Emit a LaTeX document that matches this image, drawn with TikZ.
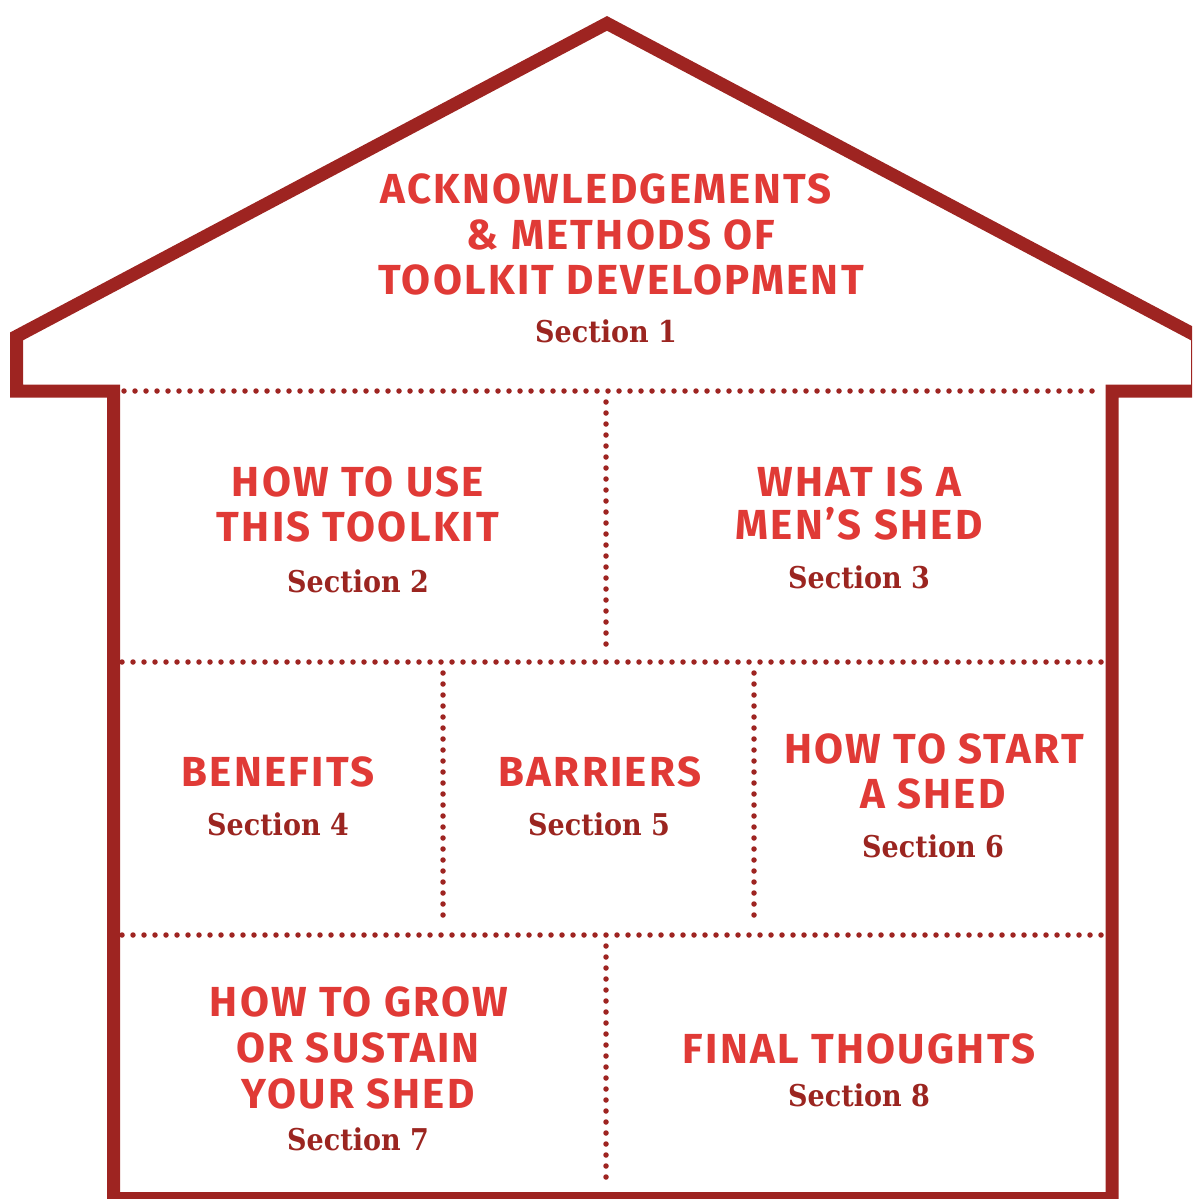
\documentclass[tikz,border=0pt]{standalone}
\usepackage{fontspec}
\newfontfamily\headfont{Fira Sans}[LetterSpace=5.5]
\newfontfamily\secfont{DejaVu Serif}[FakeStretch=0.9]
\definecolor{wallred}{HTML}{9E2421}
\definecolor{headred}{HTML}{E03A36}
\definecolor{secred}{HTML}{9B2520}
\begin{document}
\begin{tikzpicture}%
	[x=1pt,
	y=-1pt,
	wall/.style={color=wallred, line width=13pt, miter limit=20},
	divider/.style={color=wallred, line width=5.5pt, line cap=round, dash pattern=on 0pt off 11pt},
	head/.style={color=headred, anchor=base, inner sep=0pt, font=\headfont\bfseries\fontsize{42}{46}\selectfont},
	sec/.style={color=secred, anchor=base, inner sep=0pt, font=\secfont\bfseries\fontsize{30}{34}\selectfont}]
%
\useasboundingbox (0,0) rectangle (1192,1199);
\clip (0,0) rectangle (1192,1199);
%%
%% Corners of the house
%%
\coordinate (floorL) at (113.5,1198.5);
\coordinate (eaveL) at (113.5,391);
\coordinate (tipL) at (16.5,391);
\coordinate (roofL) at (16.5,336.4);
\coordinate (peak) at (607,23.4);
\coordinate (roofR) at (1197.5,336.4);
\coordinate (tipR) at (1197.5,391);
\coordinate (eaveR) at (1112,391);
\coordinate (floorR) at (1112,1198.5);
%%
%% Outline
%%
\draw[wall] (floorL) -- (eaveL) -- (tipL) -- (roofL) -- (peak) -- (roofR) -- (tipR) -- (eaveR) -- (floorR) -- cycle;
%%
%% Dotted rooms
%%
\draw[divider] (124,391) -- (1103,391);
\draw[divider] (606,402) -- (606,651);
\draw[divider] (122,662) -- (1105,662);
\draw[divider] (443,673) -- (443,924);
\draw[divider] (754,673) -- (754,924);
\draw[divider] (122,935) -- (1105,935);
\draw[divider] (606,946) -- (606,1186);
%%
%% Section 1
%%
\node[head] (ack) at (606,203) {ACKNOWLEDGEMENTS};
\node[head] (methods) at (621,249) {\& METHODS OF};
\node[head] (devel) at (621,294) {TOOLKIT DEVELOPMENT};
\node[sec] (sec1) at (606,342) {Section 1};
%%
%% Section 2
%%
\node[head] (use) at (358,496) {HOW TO USE};
\node[head] (toolkit) at (358,541) {THIS TOOLKIT};
\node[sec] (sec2) at (358,592) {Section 2};
%%
%% Section 3
%%
\node[head] (what) at (859,496) {WHAT IS A};
\node[head] (shed) at (859,539) {MEN’S SHED};
\node[sec] (sec3) at (859,588) {Section 3};
%%
%% Section 4
%%
\node[head] (benefits) at (278,786) {BENEFITS};
\node[sec] (sec4) at (278,835) {Section 4};
%%
%% Section 5
%%
\node[head] (barriers) at (600,786) {BARRIERS};
\node[sec] (sec5) at (599,835) {Section 5};
%%
%% Section 6
%%
\node[head] (start) at (934,763) {HOW TO START};
\node[head] (ashed) at (933,808) {A SHED};
\node[sec] (sec6) at (933,857) {Section 6};
%%
%% Section 7
%%
\node[head] (grow) at (359,1016) {HOW TO GROW};
\node[head] (sustain) at (358,1062) {OR SUSTAIN};
\node[head] (yours) at (358,1108) {YOUR SHED};
\node[sec] (sec7) at (358,1150) {Section 7};
%%
%% Section 8
%%
\node[head] (final) at (859,1063) {FINAL THOUGHTS};
\node[sec] (sec8) at (859,1106) {Section 8};
%%
\end{tikzpicture}
\end{document}
